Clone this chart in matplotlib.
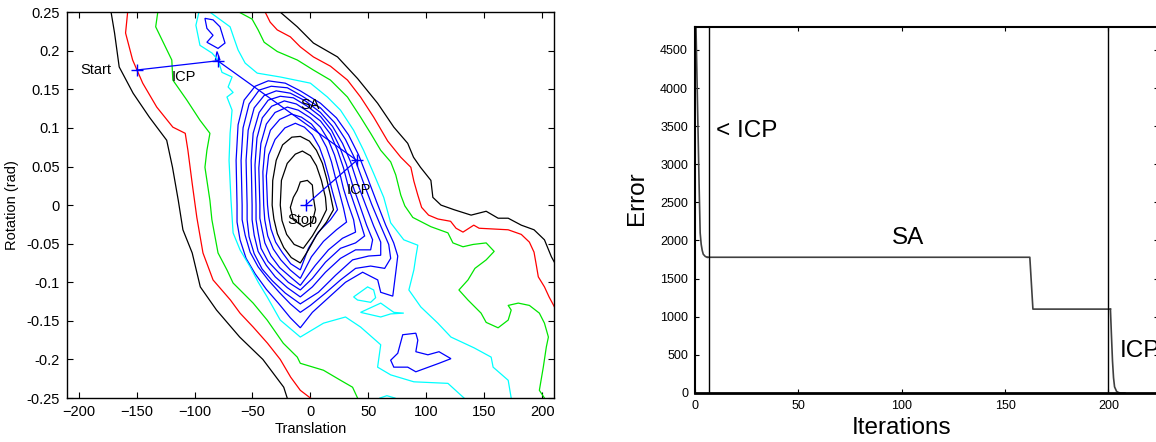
import matplotlib
matplotlib.use("Agg")
import matplotlib.pyplot as plt
from matplotlib.patches import Polygon

plt.rcParams['font.family'] = ['Liberation Sans', 'DejaVu Sans']

# ---- error surface contours (translation, rotation) ----
# outer levels: each splits into a lower-left and an upper-right branch
black_lo = [(-172, 0.25), (-169, 0.223), (-165, 0.179), (-153, 0.145), (-139, 0.114), (-124, 0.084),
            (-119, 0.049), (-114, 0.006), (-110, -0.032), (-102, -0.062), (-95, -0.106), (-81, -0.136),
            (-61, -0.171), (-41, -0.2), (-23, -0.236), (-20, -0.25)]
black_hi = [(-26, 0.25), (-11.3, 0.231), (2.6, 0.210), (23.4, 0.192), (40.7, 0.164), (58, 0.132),
            (72, 0.101), (84, 0.080), (89, 0.062), (95, 0.049), (104, 0.032), (105.7, 0.010),
            (112.7, 0.0), (124, -0.006), (138.7, -0.013), (151.7, -0.008), (162, -0.017),
            (170.7, -0.017), (182, -0.026), (193, -0.032), (202, -0.045), (208, -0.067), (212, -0.078)]
red_lo = [(-157.7, 0.25), (-159.5, 0.223), (-153.4, 0.188), (-144.7, 0.158), (-132.6, 0.127),
          (-118.7, 0.101), (-108, 0.093), (-105.7, 0.071), (-102, 0.028), (-98, -0.016), (-92.7, -0.062),
          (-84, -0.097), (-69, -0.123), (-60.7, -0.14), (-49.4, -0.158), (-37, -0.179), (-26, -0.2),
          (-17, -0.223), (-8.7, -0.24), (0, -0.25)]
red_hi = [(-39, 0.25), (-34.7, 0.237), (-28.6, 0.227), (-17.3, 0.218), (-8.7, 0.205), (2.6, 0.192),
          (17.3, 0.180), (32, 0.162), (43.3, 0.140), (54.6, 0.114), (66.7, 0.083), (78, 0.062),
          (86.7, 0.049), (89.3, 0.031), (92.7, 0.013), (96, -0.003), (102, -0.013), (110, -0.018),
          (121, -0.021), (125.7, -0.030), (131.7, -0.035), (141, -0.026), (145.6, -0.030),
          (170.7, -0.032), (182, -0.038), (189, -0.048), (193, -0.061), (195, -0.078), (196.7, -0.093),
          (202, -0.106), (206, -0.119), (211, -0.133)]
green_lo = [(-131.7, 0.25), (-133.5, 0.231), (-119.6, 0.188), (-118.7, 0.162), (-106.6, 0.136),
            (-95.3, 0.110), (-86.7, 0.093), (-89.3, 0.071), (-91, 0.049), (-86.7, 0.006), (-85, -0.019),
            (-79.7, -0.062), (-72, -0.084), (-66.7, -0.101), (-60.7, -0.110), (-49.4, -0.127),
            (-37.3, -0.149), (-23.4, -0.179), (-11.3, -0.197), (-8.7, -0.205), (11.3, -0.214),
            (26, -0.227), (36.4, -0.236), (40.7, -0.25)]
green_hi = [(-61.5, 0.25), (-50.3, 0.241), (-45.1, 0.227), (-39.9, 0.211), (-28.6, 0.199), (-11.3, 0.188),
            (2.6, 0.175), (17.3, 0.162), (32, 0.140), (43.3, 0.114), (52, 0.093), (60.7, 0.071),
            (69.3, 0.056), (73.7, 0.039), (78, 0.013), (81.5, -0.001), (88.4, -0.016), (104, -0.028),
            (118.7, -0.036), (123, -0.049), (131.7, -0.054), (140.4, -0.051), (151.7, -0.049),
            (158.6, -0.060), (151.7, -0.071), (142, -0.082), (136, -0.097), (128.2, -0.110),
            (136, -0.123), (147.3, -0.140), (151.7, -0.152), (162, -0.159), (170.7, -0.149),
            (173.3, -0.136), (170.7, -0.130), (179.4, -0.127), (189, -0.130), (197.6, -0.140),
            (202, -0.153), (205.4, -0.171), (203.6, -0.184), (201, -0.210), (197.6, -0.240), (202, -0.25)]
cyan_lo = [(-96.2, 0.25), (-98.8, 0.233), (-95.3, 0.207), (-84.9, 0.197), (-79.7, 0.188), (-76.3, 0.172),
           (-67.6, 0.166), (-71, 0.153), (-66.7, 0.146), (-72, 0.140), (-67.6, 0.123), (-69.3, 0.093),
           (-70.2, 0.058), (-68.5, 0.006), (-66.7, -0.036), (-60.7, -0.058), (-52, -0.080),
           (-45, -0.100), (-37.3, -0.119), (-26, -0.149), (-8.7, -0.171), (11.3, -0.153),
           (30.3, -0.145), (43.3, -0.158), (60.7, -0.181), (58, -0.210), (69.3, -0.220),
           (89.3, -0.229), (118.7, -0.231), (132.6, -0.25)]
cyan_hi = [(-86.7, 0.25), (-69.3, 0.231), (-65.9, 0.216), (-62.4, 0.201), (-56.3, 0.184), (-45.9, 0.171),
           (-26, 0.166), (0, 0.158), (14.7, 0.140), (26, 0.123), (37.3, 0.097), (45.9, 0.071),
           (54.6, 0.041), (63.3, 0.010), (69.3, -0.023), (80.6, -0.045), (92.7, -0.052), (91, -0.067),
           (89.3, -0.084), (85, -0.110), (95.3, -0.132), (110, -0.153), (121.3, -0.171),
           (141.3, -0.185), (156, -0.197), (157.7, -0.210), (170.7, -0.227), (173.3, -0.25)]

# small isolated pockets (closed unless they run off the frame)
cyan_pockets = [
    [(37.3, -0.119), (49.4, -0.106), (54.6, -0.110), (56.3, -0.120), (52, -0.126), (40.7, -0.123)],
    [(43.3, -0.139), (60.7, -0.127), (72, -0.139), (80.6, -0.140), (69.3, -0.141), (60.7, -0.145)],
]
cyan_edge_bit = [(60, -0.25), (66, -0.247), (73, -0.25)]
blue_pockets = [
    [(-91, 0.242), (-84, 0.240), (-78, 0.231), (-73.7, 0.210), (-79.7, 0.203), (-89.3, 0.211),
     (-84, 0.220), (-89.3, 0.229)],
    [(-80.6, 0.199), (-78, 0.188), (-82, 0.188)],
    [(79.7, -0.168), (91, -0.166), (92.7, -0.175), (91, -0.190), (101.4, -0.194), (111, -0.190),
     (121.3, -0.199), (111, -0.205), (91, -0.216), (84, -0.210), (72, -0.210), (69.3, -0.201),
     (75.4, -0.192)],
]

# nested rings around the minimum, outermost first
blue_ring8 = [(-63.3, 0.0), (-64.1, 0.058), (-62.4, 0.104), (-57.2, 0.136), (-47.7, 0.154), (-36.4, 0.161),
              (-21.7, 0.158), (-8.7, 0.148), (8.7, 0.132), (22.5, 0.113), (32.9, 0.091), (41.6, 0.065),
              (49.4, 0.035), (57.2, 0.004), (65, -0.026), (71.9, -0.049), (75.4, -0.066), (73.7, -0.087),
              (71.1, -0.118), (60.7, -0.113), (58.1, -0.097), (45.1, -0.087), (30.3, -0.100),
              (15.6, -0.120), (1.7, -0.139), (-8.7, -0.159), (-17.3, -0.146), (-27.7, -0.127),
              (-38.1, -0.109), (-47.7, -0.089), (-55.5, -0.069), (-60.7, -0.045), (-63.3, -0.022)]
blue_ring7 = [(-58.9, 0.0), (-59.8, 0.058), (-58.1, 0.100), (-52.9, 0.131), (-44.2, 0.149), (-33.8, 0.154),
              (-19.9, 0.152), (-6.9, 0.141), (8.7, 0.126), (20.8, 0.107), (30.3, 0.085), (38.1, 0.061),
              (45.1, 0.032), (52.9, 0.001), (60.7, -0.027), (67.6, -0.051), (69.3, -0.069), (64.1, -0.082),
              (52, -0.079), (39, -0.082), (26, -0.097), (13, -0.114), (0, -0.130), (-8.7, -0.139),
              (-17.3, -0.128), (-26.9, -0.113), (-36.4, -0.097), (-45.1, -0.080), (-52, -0.061),
              (-56.3, -0.039), (-58.9, -0.019)]
blue_ring6 = [(-54.6, 0), (-55.5, 0.058), (-53.7, 0.097), (-48.5, 0.126), (-39.9, 0.142), (-29.5, 0.148),
              (-17.3, 0.145), (-4.3, 0.135), (8.7, 0.120), (19.1, 0.102), (27.7, 0.080), (34.7, 0.056),
              (40.7, 0.028), (47.7, 0), (54.6, -0.027), (60.7, -0.048), (60.7, -0.065), (50.3, -0.066),
              (36.4, -0.071), (21.7, -0.091), (6.9, -0.113), (-8.7, -0.128), (-21.7, -0.114),
              (-32.9, -0.098), (-41.6, -0.083), (-48.5, -0.063), (-52.9, -0.041), (-54.6, -0.019)]
blue_ring5 = [(-50.3, 0), (-51.1, 0.058), (-49.4, 0.093), (-44.2, 0.120), (-36.4, 0.136), (-26, 0.141),
              (-14.7, 0.139), (-2.6, 0.128), (8.7, 0.115), (18.2, 0.097), (25.1, 0.076), (31.2, 0.052),
              (36.4, 0.026), (42.5, 0), (48.5, -0.026), (53.7, -0.045), (52, -0.058), (39, -0.058),
              (26, -0.069), (13, -0.087), (1.7, -0.106), (-8.7, -0.119), (-19.9, -0.107), (-30.3, -0.093),
              (-38.1, -0.078), (-45.1, -0.060), (-48.5, -0.039), (-50.3, -0.019)]
blue_ring4 = [(-46.9, 0), (-47.8, 0.052), (-46.1, 0.087), (-41.5, 0.113), (-33.5, 0.128), (-22.5, 0.135),
              (-12.1, 0.131), (-0.9, 0.120), (8.7, 0.109), (17.3, 0.092), (23.4, 0.071), (28.6, 0.048),
              (32.9, 0.023), (38.1, 0), (43.3, -0.023), (46.8, -0.040), (39, -0.049), (26, -0.056),
              (13, -0.074), (1.7, -0.095), (-8.7, -0.110), (-19.1, -0.100), (-27.7, -0.087),
              (-36.5, -0.073), (-42.6, -0.056), (-45.2, -0.035), (-46.9, -0.019)]
blue_ring3 = [(-43.6, 0), (-44.5, 0.048), (-42.7, 0.080), (-38, 0.105), (-30.5, 0.120), (-19.9, 0.127),
              (-10.4, 0.123), (0, 0.113), (8.7, 0.101), (15.6, 0.084), (20.8, 0.065), (25.1, 0.043),
              (28.6, 0.021), (32.9, 0), (37.3, -0.019), (39, -0.035), (27.7, -0.043), (15.6, -0.058),
              (4.3, -0.078), (-8.7, -0.104), (-17.3, -0.093), (-26.5, -0.081), (-34, -0.066),
              (-39.3, -0.049), (-41.9, -0.030), (-43.6, -0.017)]
blue_ring2 = [(-40.3, 0), (-41, 0.043), (-39.2, 0.074), (-34.5, 0.097), (-26.5, 0.111), (-16.5, 0.118),
              (-7.8, 0.114), (0.9, 0.105), (7.8, 0.092), (13.9, 0.075), (18.2, 0.056), (21.7, 0.035),
              (25.1, 0.016), (28.6, -0.004), (31.2, -0.022), (22.5, -0.032), (11.3, -0.047), (0.9, -0.067),
              (-8.7, -0.095), (-17.5, -0.084), (-25.5, -0.071), (-32, -0.057), (-36.8, -0.040),
              (-39.4, -0.019)]
blue_ring1 = [(-37, 0), (-38, 0.038), (-36, 0.065), (-30.5, 0.085), (-22, 0.100), (-13, 0.106),
              (-5.2, 0.101), (1.7, 0.091), (7.8, 0.075), (12.1, 0.057), (15.6, 0.038), (19.1, 0.017),
              (23.4, -0.006), (17.3, -0.019), (6.9, -0.035), (-1.7, -0.056), (-8.7, -0.084), (-17, -0.076),
              (-24, -0.062), (-30, -0.048), (-34, -0.031), (-36, -0.015)]
black_ring3 = [(-33, 0), (-32.5, 0.032), (-29.5, 0.058), (-24, 0.078), (-16, 0.088), (-8.7, 0.089),
               (-0.9, 0.083), (5.2, 0.071), (10.4, 0.054), (13.9, 0.035), (17.3, 0.013), (19.9, -0.006),
               (13.9, -0.022), (5.2, -0.039), (-1.7, -0.058), (-8.7, -0.075), (-16.5, -0.068),
               (-23, -0.055), (-28.5, -0.037), (-31.5, -0.018)]
black_ring2 = [(-26, 0), (-25, 0.032), (-20, 0.054), (-13, 0.066), (-6.9, 0.070), (0, 0.064),
               (5.2, 0.051), (9.5, 0.032), (13, 0.010), (13.9, -0.006), (8.7, -0.022), (1.7, -0.040),
               (-6.1, -0.056), (-14, -0.051), (-20.5, -0.038), (-24.5, -0.020)]
black_ring1 = [(-11.3, 0.019), (-8.7, 0.030), (-2.6, 0.032), (1.7, 0.026), (2.6, 0.010), (4.3, -0.006),
               (1.7, -0.022), (-6, -0.028), (-14.7, -0.019), (-17.3, -0.003), (-14.7, 0.010)]

# registration path: start -> ICP -> SA -> ICP -> stop
path_trans = [-150, -80, 40, -4]
path_rot = [0.175, 0.187, 0.058, 0.0]
path_labels = [("Start", -172, 0.175, "right"), ("ICP", -120, 0.166, "left"),
               ("SA", -9, 0.130, "left"), ("ICP", 31, 0.019, "left"), ("Stop", -20, -0.019, "left")]

# ---- error vs iterations ----
icp1_iter = [0, 1, 2, 2.5, 3, 3.5, 4, 5, 6]
icp1_err = [5450, 4090, 2720, 2100, 1950, 1870, 1820, 1790, 1780]
sa_iter = [6, 162, 163.5, 201]
sa_err = [1780, 1780, 1100, 1100]
icp2_iter = [201, 201.5, 202, 202.5, 203, 204, 205, 206, 208]
icp2_err = [1100, 750, 420, 200, 80, 20, 5, 0, 0]
stage_marks = [7, 200]

BLUE = '#0000ff'
CYAN = '#00ffff'
GREEN = '#00e600'
RED = '#ff0000'

fig = plt.figure(figsize=(11.56, 4.42), dpi=100)

# left: contour map
ax1 = fig.add_axes([0.058, 0.0995, 0.421, 0.873])


def draw_open(pts, color):
    xs, ys = zip(*pts)
    ax1.plot(xs, ys, color=color, lw=0.9)


def draw_ring(pts, color):
    ax1.add_patch(Polygon(pts, closed=True, fill=False, edgecolor=color, lw=0.9))


for pts, col in [(black_lo, 'k'), (black_hi, 'k'), (red_lo, RED), (red_hi, RED),
                 (green_lo, GREEN), (green_hi, GREEN), (cyan_lo, CYAN), (cyan_hi, CYAN),
                 (cyan_edge_bit, CYAN)]:
    draw_open(pts, col)
for pts in cyan_pockets:
    draw_ring(pts, CYAN)
for pts in blue_pockets:
    draw_ring(pts, BLUE)
for ring in [blue_ring8, blue_ring7, blue_ring6, blue_ring5, blue_ring4, blue_ring3, blue_ring2, blue_ring1]:
    draw_ring(ring, BLUE)
for ring in [black_ring3, black_ring2, black_ring1]:
    draw_ring(ring, 'k')

ax1.plot(path_trans, path_rot, color=BLUE, lw=0.9, marker='+', ms=8, mew=1)
for txt, x, y, ha in path_labels:
    ax1.text(x, y, txt, fontsize=10.5, ha=ha, va='center')

ax1.set_xlim(-210, 210)
ax1.set_ylim(-0.25, 0.25)
ax1.set_xticks(range(-200, 201, 50))
ax1.set_yticks([-0.25, -0.2, -0.15, -0.1, -0.05, 0, 0.05, 0.1, 0.15, 0.2, 0.25])
ax1.set_yticklabels(['-0.25', '-0.2', '-0.15', '-0.1', '-0.05', '0', '0.05', '0.1', '0.15', '0.2', '0.25'])
ax1.tick_params(direction='in', top=True, right=True, length=4, labelsize=10.5, pad=5)
ax1.set_xlabel('Translation', fontsize=10.5)
ax1.set_ylabel('Rotation (rad)', fontsize=10.5)
ax1.xaxis.set_label_coords(0.5, -0.062)
ax1.yaxis.set_label_coords(-0.098, 0.5)
for sp in ax1.spines.values():
    sp.set_linewidth(1.0)

# right: error curve
ax2 = fig.add_axes([0.6012, 0.1109, 0.4005, 0.828])
ax2.plot(icp1_iter, icp1_err, color='#404040', lw=1.2)
ax2.plot(sa_iter, sa_err, color='#404040', lw=1.2)
ax2.plot(icp2_iter, icp2_err, color='#404040', lw=1.2)
for it in stage_marks:
    ax2.axvline(it, color='k', lw=1.0)

ax2.text(10, 3440, '< ICP', fontsize=17.5, ha='left', va='center')
ax2.text(103, 2030, 'SA', fontsize=17.5, ha='center', va='center')
ax2.text(205.3, 550, 'ICP', fontsize=17.5, ha='left', va='center')

ax2.set_xlim(0, 224)
ax2.set_ylim(0, 4800)
ax2.set_xticks([0, 50, 100, 150, 200])
ax2.set_yticks(range(0, 4501, 500))
ax2.tick_params(direction='in', top=True, right=True, length=3, labelsize=9, pad=5)
ax2.set_xlabel('Iterations', fontsize=17.5)
ax2.set_ylabel('Error', fontsize=17.5)
ax2.xaxis.set_label_coords(0.447, -0.066)
ax2.yaxis.set_label_coords(-0.102, 0.533)
ax2.spines['bottom'].set_linewidth(2.0)
ax2.spines['top'].set_linewidth(1.5)
ax2.spines['left'].set_linewidth(1.5)

fig.savefig('out.png', dpi=100)
